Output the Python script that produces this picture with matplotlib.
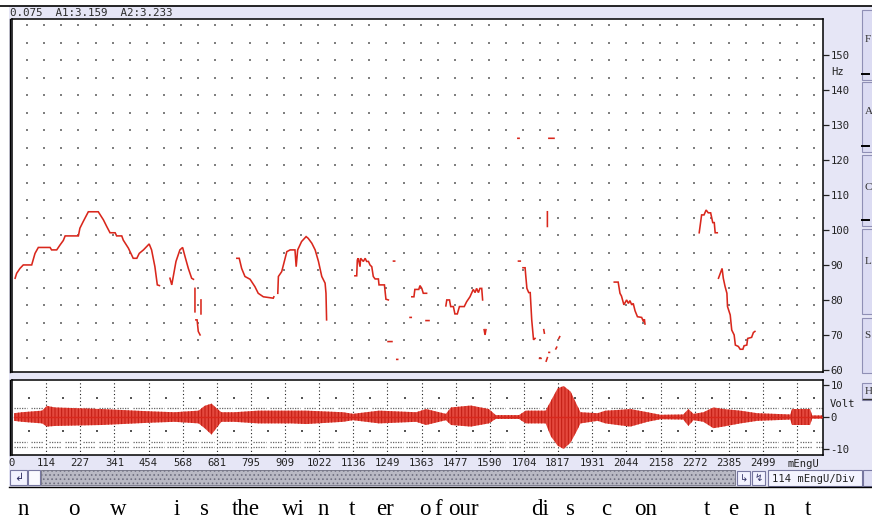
import numpy as np
import matplotlib
matplotlib.use("Agg")
import matplotlib.pyplot as plt
from matplotlib.patches import Rectangle
from matplotlib.transforms import blended_transform_factory as btf

nan = np.nan

# ---------------- data ----------------
# pitch track (time in mEngU, frequency in Hz); nan separates voiced pieces
pitch_time = [
    17, 22, 33, 44, 72, 83, 94, 133, 138, 155, 166, 177, 183, 227, 232, 243, 260, 293, 310, 321,
    332, 349, 354, 371, 376, 393, 409, 421, 429, 443, 462, 470, 481, 489, 496, nan,
    531, 537, 551, 564, 573, 581, 592, 603, 609, nan,
    614, 614, nan,
    617, 621, 625, 631, nan,
    634, 634, nan,
    753, 761, 769, 780, 797, 813, 824, 841, 874, 876, nan,
    889, 891, 902, 919, 930, 946, 950, 955, 968, 983, 990, 1002, 1013, 1024, 1035, 1046, 1049, 1051, nan,
    1145, 1151, 1153, 1156, 1162, 1164, 1173, 1179, 1184, 1190, 1195, 1201, 1206, 1212, 1223, 1225,
    1243, 1248, 1256, nan,
    1255, 1268, nan,
    1273, 1277, nan,
    1284, 1287, nan,
    1328, 1332, nan,
    1334, 1341, 1344, 1357, 1361, 1367, 1372, 1383, nan,
    1381, 1391, nan,
    1447, 1450, 1459, 1463, 1472, 1477, 1485, 1492, 1508, 1516, 1527, 1538, 1544, 1549, 1555, 1560,
    1566, 1569, nan,
    1574, 1577, 1580, nan,
    1686, 1690, nan,
    1688, 1694, nan,
    1703, 1710, 1712, 1716, 1722, 1727, 1729, 1732, 1736, 1738, 1743, nan,
    1758, 1763, nan,
    1772, 1774, nan,
    1780, 1784, nan,
    1784, 1784, nan,
    1789, 1806, nan,
    1789, 1791, nan,
    1812, 1815, nan,
    1822, 1825, nan,
    2006, 2019, 2025, 2030, 2038, 2047, 2053, 2058, 2064, 2069, 2075, 2083, 2097, 2103, 2106, 2108, nan,
    2288, 2296, 2304, 2311, 2318, 2326, 2333, 2338, 2341, 2348, nan,
    2352, 2360, 2364, 2368, 2374, 2380, 2382, 2391, 2396, 2404, 2408, 2418, 2424, 2433, 2437, 2446,
    2449, 2462, 2468, 2473,
]
pitch_hz = [
    86.2, 87.6, 89, 90, 90, 93.3, 95, 95, 94.3, 94.3, 95.7, 97, 98.3, 98.3, 100.5, 102.4, 105.2, 105.2, 102.9, 101,
    99.2, 99.2, 98.3, 98.3, 97.1, 94.8, 91.9, 91.9, 93.3, 94.3, 96, 94.3, 89.5, 84.3, 84.1, nan,
    86.2, 84.3, 91, 94.3, 95, 92.4, 89, 86.2, 85.9, nan,
    83.3, 76.6, nan,
    74.3, 74.3, 71, 70, nan,
    80, 76, nan,
    91.9, 91.9, 89, 86.7, 85.9, 83.8, 81.9, 80.9, 80.5, 80.9, nan,
    81.9, 86.7, 88.1, 93.8, 94.3, 94.3, 89.5, 94.3, 96.7, 98.1, 97.6, 96.2, 94.3, 91, 86.7, 84.8, 81.9, 74.3, nan,
    86.9, 86.9, 91.4, 91.9, 89.5, 91.9, 91, 91.9, 91, 91, 90, 89.5, 86.7, 86, 86, 84.3,
    84.3, 80.2, 80, nan,
    68.1, 68.1, nan,
    91.1, 91.1, nan,
    63, 63, nan,
    75, 75, nan,
    80.9, 80.9, 83, 83, 84.1, 83.3, 81.9, 81.9, nan,
    74.1, 74.1, nan,
    78.3, 80, 80, 78.1, 78.1, 76, 76, 78.1, 78.1, 79.5, 80.9, 83, 82.1, 83.3, 82.1, 83.3,
    83.3, 80, nan,
    71.5, 70, 71.5, nan,
    126.2, 126.2, nan,
    91.1, 91.1, nan,
    89.2, 89.2, 87.1, 83.3, 82.1, 82.1, 79, 74.3, 70.5, 68.6, 69, nan,
    63.3, 63.3, nan,
    71.5, 70.5, nan,
    62.5, 63.5, nan,
    105.2, 101, nan,
    126.2, 126.2, nan,
    65, 65, nan,
    66, 66.5, nan,
    69, 69.5, nan,
    85.1, 85.1, 81.9, 81.1, 78.6, 80, 79, 79.8, 78.6, 79, 76.9, 75.2, 75, 73.8, 74.5, 73.1, nan,
    99.2, 104.3, 104.3, 105.7, 104.9, 104.9, 102.1, 102.1, 99.2, 99.2, nan,
    86.2, 88.1, 89, 86.2, 83.8, 81.9, 78.1, 75.7, 71.4, 70, 67.1, 66.7, 65.9, 65.9, 66.9, 67.1,
    69, 69.3, 70.7, 71,
]

# waveform amplitude envelope (Volt)
wave_time = [7, 33, 100, 116, 143, 299, 455, 541, 621, 641, 664, 684, 697, 740, 820, 930, 979, 1102,
             1135, 1222, 1345, 1378, 1444, 1461, 1527, 1587, 1610, 1687, 1710, 1776, 1793, 1816, 1836,
             1859, 1879, 1892, 1949, 1975, 2015, 2058, 2115, 2158, 2234, 2251, 2268, 2301, 2334, 2367,
             2424, 2480, 2590, 2596, 2656, 2663, 2696]
wave_hi = [1.2, 1.5, 2, 3.5, 3, 2.5, 1.8, 1.5, 2, 3.5, 4.2, 2.5, 1.5, 1.5, 2, 2, 2, 1.5, 1, 2, 1.5,
           2.5, 1, 3, 3.6, 2.5, 0.6, 0.6, 2, 2, 5, 9, 9.7, 8, 4, 1.5, 1.2, 2, 2.2, 2.5, 1.5, 0.7, 0.8,
           2.5, 1, 1.5, 3, 2.5, 2, 1.2, 0.8, 2.5, 2.5, 0.5, 0.5]
wave_lo = [-1.2, -1.5, -2, -3, -2.8, -2.5, -1.8, -1.5, -2, -3.5, -5.5, -3, -1.5, -1.5, -2, -2, -2.2,
           -1.5, -1, -2, -1.5, -2.5, -1, -2.5, -3, -2, -0.6, -0.6, -2, -2, -6, -9, -10, -8, -4.5, -2,
           -1.2, -2, -2.5, -3, -1.5, -0.7, -0.8, -2.8, -1, -1.5, -3.5, -3, -2, -1.2, -0.8, -2.5, -2.5,
           -0.5, -0.5]

time_ticks = [0, 114, 227, 341, 454, 568, 681, 795, 909, 1022, 1136, 1249, 1363, 1477, 1590, 1704,
              1817, 1931, 2044, 2158, 2272, 2385, 2499]
hz_ticks = [60, 70, 80, 90, 100, 110, 120, 130, 140, 150]
volt_ticks = [10, 0, -10]

speech_tokens = ['n', 'o', 'w', 'i', 's', 'the', 'wi', 'n', 't', 'er', 'o', 'f', 'our', 'di', 's',
                 'c', 'on', 't', 'e', 'n', 't']
speech_times = [20, 186, 325, 538, 624, 730, 900, 1016, 1122, 1212, 1355, 1404, 1451, 1726, 1843,
                1959, 2072, 2301, 2384, 2500, 2639]

# ---------------- style ----------------
RED = '#d9271c'
LAV = '#e6e6f6'
MONO = 'DejaVu Sans Mono'
plt.rcParams['hatch.linewidth'] = 0.7

W, H = 872, 523
fig = plt.figure(figsize=(W / 100, H / 100), dpi=100)
fig.patch.set_facecolor('white')

bg = fig.add_axes([0, 0, 1, 1], zorder=0)
bg.set_xlim(0, W)
bg.set_ylim(H, 0)
bg.axis('off')


def box(x0, y0, x1, y1):
    return [x0 / W, 1 - y1 / H, (x1 - x0) / W, (y1 - y0) / H]


# window background
bg.add_patch(Rectangle((9, 6), W - 9, 481, fc=LAV, ec='none'))
bg.plot([0, W], [6, 6], color='black', lw=1.2)
bg.plot([9, W], [486.5, 486.5], color='black', lw=1)
bg.text(10, 13, '0.075  A1:3.159  A2:3.233', family=MONO, fontsize=7.8, color='#2a2a2a',
        va='center', ha='left')
# left double border
for (ya, yb) in [(19, 372), (380, 455)]:
    bg.plot([9.6, 9.6], [ya, yb], color='black', lw=1)

# right-side buttons
for (y0, y1, letter, yl, dash) in [(10, 80, 'F', 40, True), (82, 152, 'A', 112, True),
                                    (155, 226, 'C', 188, True), (229, 314, 'L', 262, False),
                                    (318, 373, 'S', 335, False), (383, 400, 'H', 391, False)]:
    bg.add_patch(Rectangle((862, y0), 14, y1 - y0, fc='#dcdcf3', ec='#8f8fb5', lw=0.8))
    bg.text(864.5, yl, letter, family='Liberation Serif', fontsize=8, color='#333333',
            va='center', ha='left')
    if dash:
        bg.plot([862, 869], [y1 - 6, y1 - 6], color='black', lw=1.4)
bg.plot([863, 872], [399, 399], color='#333333', lw=1)

# scrollbar row
bg.add_patch(Rectangle((10, 470), 17, 15, fc='#f2f2ff', ec='#7777a0', lw=0.8))
bg.text(18.5, 478, '\u21b2', fontsize=8, ha='center', va='center', color='#333366')
bg.add_patch(Rectangle((28, 470), 12, 15, fc='#fafaff', ec='#7777a0', lw=0.8))
bg.add_patch(Rectangle((41, 470), 694, 15, fc='#b9b9c4', ec='#6f6f80', lw=0.6, hatch='....'))
bg.add_patch(Rectangle((737, 471), 13, 14, fc='#f2f2ff', ec='#7777a0', lw=0.8))
bg.text(743.5, 478, '\u21b3', fontsize=7, ha='center', va='center', color='#333366')
bg.add_patch(Rectangle((752, 471), 13, 14, fc='#f2f2ff', ec='#7777a0', lw=0.8))
bg.text(758.5, 478, '\u21af', fontsize=7, ha='center', va='center', color='#333366')
bg.add_patch(Rectangle((768, 470), 94, 16, fc='#f4f4ff', ec='#7777a0', lw=0.8))
bg.text(772, 478.5, '114 mEngU/Div', family=MONO, fontsize=7.6, color='#222222',
        va='center', ha='left')
bg.add_patch(Rectangle((863, 470), 12, 16, fc='#dcdcf3', ec='#7777a0', lw=0.8))

# ---------------- pitch panel ----------------
ax = fig.add_axes(box(12, 19, 823, 372), zorder=2)
ax.set_facecolor('white')
ax.set_xlim(6.6, 2699)
ax.set_ylim(59.4, 160.3)
dot_t = np.arange(1, 48) * 56.8
dot_h = 63.5 + 5 * np.arange(20)
gt, gh = np.meshgrid(dot_t, dot_h)
ax.scatter(gt.ravel(), gh.ravel(), s=0.9, color='#808080', marker='s', linewidths=0, zorder=1)
ax.plot(pitch_time, pitch_hz, color=RED, lw=1.15, zorder=3, solid_joinstyle='miter')
ax.set_xticks([])
ax.yaxis.tick_right()
ax.set_yticks(hz_ticks)
ax.set_yticklabels([str(v) for v in hz_ticks])
ax.tick_params(axis='y', direction='out', length=4, width=0.9, pad=1.5, labelsize=7.6,
               colors='#222222')
for lab in ax.get_yticklabels():
    lab.set_family(MONO)
for s in ax.spines.values():
    s.set_color('black')
    s.set_linewidth(1.1)
ax.text(1.01, 145.2, 'Hz', transform=btf(ax.transAxes, ax.transData), family=MONO,
        fontsize=7.6, color='#222222', va='center', ha='left')

# ---------------- waveform panel ----------------
axb = fig.add_axes(box(12, 380, 823, 455), zorder=2)
axb.set_facecolor('white')
axb.set_xlim(6.6, 2699)
axb.set_ylim(-11.9, 11.6)
for k in range(1, 24):
    axb.axvline(113.6 * k, color='#222222', lw=0.8, ls=(0, (1, 2.2)), zorder=1)
odd_t = 56.8 * (2 * np.arange(24) + 1)
for yv in (6, -4.5):
    axb.scatter(odd_t, np.full(odd_t.shape, yv), s=1.0, color='#555555', marker='s',
                linewidths=0, zorder=1)
for k in range(0, 24):
    for yv in (2.9, -7.7, -9.3):
        axb.plot([113.6 * k + 8, 113.6 * k + 50], [yv, yv], color='#666666', lw=0.9,
                 ls=(0, (1, 1)), zorder=1)
        axb.plot([113.6 * k + 62, 113.6 * k + 104], [yv, yv], color='#666666', lw=0.9,
                 ls=(0, (1, 1)), zorder=1)
axb.fill_between(wave_time, wave_lo, wave_hi, facecolor='#e4483d', edgecolor='#c01a10', lw=0,
                 hatch='|||||', zorder=2)
axb.plot(wave_time, [0] * len(wave_time), color=RED, lw=1.0, zorder=3)
axb.set_xticks(time_ticks)
axb.set_xticklabels([str(v) for v in time_ticks])
axb.tick_params(axis='x', length=0, pad=2.0, labelsize=7.6, colors='#222222')
for lab in axb.get_xticklabels():
    lab.set_family(MONO)
axb.yaxis.tick_right()
axb.set_yticks(volt_ticks)
axb.set_yticklabels([str(v) for v in volt_ticks])
axb.tick_params(axis='y', direction='out', length=4, width=0.9, pad=1.5, labelsize=7.6,
                colors='#222222')
for lab in axb.get_yticklabels():
    lab.set_family(MONO)
for s in axb.spines.values():
    s.set_color('black')
    s.set_linewidth(1.1)
axb.text(1.008, 4.0, 'Volt', transform=btf(axb.transAxes, axb.transData), family=MONO,
         fontsize=7.6, color='#222222', va='center', ha='left')
axb.text(2633, -13.3, 'mEngU', family=MONO, fontsize=7.6, color='#222222', ha='center',
         va='top', clip_on=False)

# transcription under the display
tr = btf(axb.transData, bg.transData)
for tok, t in zip(speech_tokens, speech_times):
    bg.text(t, 515, tok, transform=tr, family='Liberation Serif', fontsize=16.5,
            color='black', ha='left', va='baseline')

fig.savefig('out.png', dpi=100)
